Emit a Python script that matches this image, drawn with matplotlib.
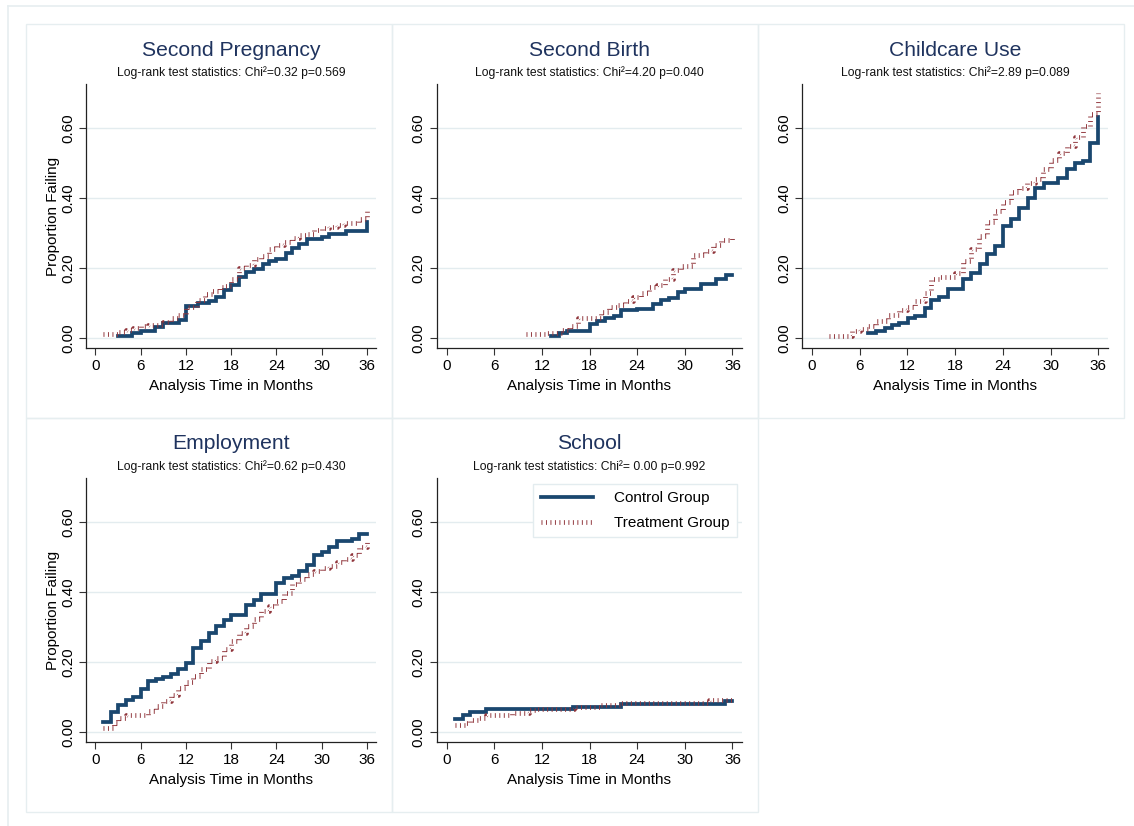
import numpy as np
import matplotlib
matplotlib.use("Agg")
import matplotlib.pyplot as plt
from matplotlib.patches import Rectangle
from matplotlib.lines import Line2D

plt.rcParams['font.family'] = ['Liberation Sans', 'DejaVu Sans']

W, H = 1134, 826

# ---- data (months, cumulative proportion failing) ----
preg_ctrl_t = [3, 4.9, 6, 7.9, 9, 11.1, 12, 13.6, 15, 16, 17, 18, 19, 20, 21, 22.2, 23, 24, 25.3, 26, 27, 28.1, 30.1, 31, 33.2, 36]
preg_ctrl_y = [0.006, 0.013, 0.021, 0.03, 0.042, 0.051, 0.092, 0.10, 0.107, 0.116, 0.137, 0.151, 0.173, 0.19, 0.197, 0.211, 0.219, 0.225, 0.244, 0.258, 0.268, 0.282, 0.29, 0.297, 0.306, 0.332]
preg_trt_t = [1, 3, 4, 5, 6, 7, 8, 9, 10, 11, 12, 13.5, 14.5, 15.5, 16.5, 17, 18, 19, 20, 21, 22, 23, 24, 25, 26, 27, 28, 29, 30, 31, 32, 33, 35, 36]
preg_trt_y = [0.010, 0.016, 0.022, 0.028, 0.033, 0.036, 0.038, 0.045, 0.058, 0.066, 0.09, 0.11, 0.125, 0.135, 0.145, 0.15, 0.17, 0.2, 0.21, 0.225, 0.235, 0.255, 0.265, 0.275, 0.285, 0.295, 0.298, 0.31, 0.315, 0.318, 0.322, 0.33, 0.34, 0.366]

birth_ctrl_t = [13.1, 14.2, 15.1, 18, 19, 20, 21.1, 22, 24, 26, 27, 28, 29.1, 30, 32, 33.9, 35.2, 36]
birth_ctrl_y = [0.006, 0.013, 0.021, 0.04, 0.049, 0.056, 0.063, 0.08, 0.082, 0.097, 0.109, 0.113, 0.132, 0.139, 0.153, 0.168, 0.18, 0.18]
birth_trt_t = [10, 12.5, 14.5, 15.5, 16.5, 19.5, 20.5, 21.5, 22.5, 23.5, 24.5, 25.5, 26.5, 27.5, 28.5, 29.5, 31, 32.5, 33.5, 34.5, 36]
birth_trt_y = [0.01, 0.015, 0.022, 0.035, 0.057, 0.075, 0.09, 0.095, 0.105, 0.118, 0.13, 0.145, 0.152, 0.17, 0.194, 0.207, 0.237, 0.25, 0.265, 0.28, 0.285]

care_ctrl_t = [7.1, 8, 9.2, 10, 11, 12.1, 13, 14.2, 15, 16, 17.1, 19, 20, 21.1, 22, 23, 24, 25, 26, 27.1, 28, 29.1, 30.9, 32, 33, 34, 34.9, 36]
care_ctrl_y = [0.014, 0.02, 0.029, 0.036, 0.043, 0.058, 0.064, 0.085, 0.11, 0.118, 0.139, 0.168, 0.187, 0.211, 0.24, 0.262, 0.321, 0.34, 0.371, 0.401, 0.429, 0.444, 0.458, 0.484, 0.499, 0.506, 0.556, 0.633]
care_trt_t = [2.1, 5, 6, 7.1, 8, 9.5, 11, 12, 13, 14.2, 15, 16, 18, 19, 20, 21, 22, 23, 24, 25, 26, 27, 28, 29, 30, 31, 32, 33, 34, 35, 36]
care_trt_y = [0.005, 0.019, 0.025, 0.033, 0.048, 0.067, 0.081, 0.09, 0.105, 0.13, 0.168, 0.175, 0.187, 0.22, 0.254, 0.292, 0.331, 0.364, 0.388, 0.417, 0.43, 0.443, 0.455, 0.482, 0.51, 0.53, 0.55, 0.575, 0.605, 0.64, 0.70]

emp_ctrl_t = [1, 2, 3, 4, 5, 6, 7, 8, 9, 10, 11, 12, 13, 14, 15, 16, 17, 18, 20, 21, 22, 24, 25, 26, 27, 28, 29, 30, 31, 32, 34, 35, 36]
emp_ctrl_y = [0.028, 0.058, 0.076, 0.091, 0.1, 0.122, 0.146, 0.152, 0.158, 0.167, 0.181, 0.197, 0.241, 0.26, 0.284, 0.303, 0.32, 0.333, 0.362, 0.378, 0.394, 0.425, 0.439, 0.446, 0.461, 0.477, 0.507, 0.515, 0.53, 0.545, 0.553, 0.565, 0.565]
emp_trt_t = [1, 2.5, 3, 4, 7, 8, 9, 10, 11, 12, 13, 14, 15, 16, 17, 18, 19, 20, 21, 22, 23, 24, 25, 26, 27, 28, 29, 30, 31, 32, 33, 34, 35, 36]
emp_trt_y = [0.012, 0.025, 0.04, 0.05, 0.06, 0.074, 0.088, 0.107, 0.126, 0.143, 0.16, 0.18, 0.203, 0.212, 0.236, 0.26, 0.284, 0.303, 0.322, 0.345, 0.36, 0.375, 0.398, 0.423, 0.437, 0.451, 0.461, 0.47, 0.475, 0.485, 0.494, 0.506, 0.528, 0.55]

school_ctrl_t = [1.05, 2.1, 2.9, 5, 15.9, 22, 35, 36]
school_ctrl_y = [0.036, 0.05, 0.057, 0.065, 0.072, 0.079, 0.089, 0.089]
school_trt_t = [1, 2.5, 3, 4, 5, 8.2, 10.4, 11.3, 16, 19.3, 22, 23.9, 33.1, 36]
school_trt_y = [0.019, 0.027, 0.034, 0.041, 0.048, 0.055, 0.062, 0.067, 0.072, 0.076, 0.082, 0.084, 0.092, 0.092]

titles = ["Second Pregnancy", "Second Birth", "Childcare Use", "Employment", "School"]
subtitles = ["Log-rank test statistics: Chi\u00b2=0.32 p=0.569",
             "Log-rank test statistics: Chi\u00b2=4.20 p=0.040",
             "Log-rank test statistics: Chi\u00b2=2.89 p=0.089",
             "Log-rank test statistics: Chi\u00b2=0.62 p=0.430",
             "Log-rank test statistics: Chi\u00b2= 0.00 p=0.992"]
xticks = [0, 6, 12, 18, 24, 30, 36]
yticks = [0.0, 0.2, 0.4, 0.6]

series = [(preg_ctrl_t, preg_ctrl_y, preg_trt_t, preg_trt_y),
          (birth_ctrl_t, birth_ctrl_y, birth_trt_t, birth_trt_y),
          (care_ctrl_t, care_ctrl_y, care_trt_t, care_trt_y),
          (emp_ctrl_t, emp_ctrl_y, emp_trt_t, emp_trt_y),
          (school_ctrl_t, school_ctrl_y, school_trt_t, school_trt_y)]

NAVY = '#1a476f'
RED = '#90353b'
TITLE_C = '#1f335e'
GRID_C = '#e3ecef'
FRAME_C = '#e6eef0'

# pixel boxes: (left, top, right, bottom) of axes; and of panel frame
axes_px = [(86, 84, 376, 348), (436.7, 84, 742, 348), (802, 84, 1108, 348),
           (86, 478, 376, 742), (436.7, 478, 742, 742)]
frames_px = [(26, 24, 392, 418), (392, 24, 758, 418), (758, 24, 1124, 418),
             (26, 418, 392, 812), (392, 418, 758, 812)]

fig = plt.figure(figsize=(W / 100, H / 100), dpi=100)
fig.patch.set_facecolor('white')

# outer frame (top and left edges)
fig.add_artist(Line2D([8 / W, 1.0], [1 - 6 / H, 1 - 6 / H], color=FRAME_C, lw=1.2))
fig.add_artist(Line2D([8 / W, 8 / W], [0, 1 - 6 / H], color=FRAME_C, lw=1.2))
for (l, t, r, b) in frames_px:
    fig.add_artist(Rectangle((l / W, 1 - b / H), (r - l) / W, (b - t) / H,
                             fill=False, edgecolor=FRAME_C, lw=1.0))


def kaplan(ax, tx, ty, **kw):
    return ax.step(tx, ty, where='post', **kw)


for i, (l, t, r, b) in enumerate(axes_px):
    ax = fig.add_axes([l / W, 1 - b / H, (r - l) / W, (b - t) / H])
    ax.set_facecolor('white')
    ct, cy, tt, ty = series[i]
    kaplan(ax, ct, cy, color=NAVY, lw=2.7, solid_joinstyle='miter', label='Control Group', zorder=3)
    kaplan(ax, tt, ty, color=RED, lw=3.4, dashes=(0.2, 0.75), dash_capstyle='butt',
           label='Treatment Group', zorder=4)
    # x range maps 0 and 36 to tick positions
    ax.set_xlim(-1.25, 37.2)
    ax.set_ylim(-0.0286, 0.726)
    ax.set_xticks(xticks)
    ax.set_yticks(yticks)
    ax.set_yticklabels([f"{v:.2f}" for v in yticks], rotation=90, va='center')
    ax.tick_params(axis='both', labelsize=11, length=5, width=0.8, color='#333333', pad=3)
    ax.yaxis.grid(True, color=GRID_C, lw=1.0)
    ax.set_axisbelow(True)
    for s in ['top', 'right']:
        ax.spines[s].set_visible(False)
    for s in ['left', 'bottom']:
        ax.spines[s].set_color('#222222')
        ax.spines[s].set_linewidth(0.9)
    ax.set_xlabel("Analysis Time in Months", fontsize=11, labelpad=4)
    if i in (0, 3):
        ax.set_ylabel("Proportion Failing", fontsize=11, labelpad=1)
    # titles
    cx = (l + r) / 2 / W
    fig.text(cx, 1 - (t - 34) / H, titles[i], ha='center', va='center', fontsize=15.2, color=TITLE_C)
    fig.text(cx, 1 - (t - 11) / H, subtitles[i], ha='center', va='center', fontsize=8.7, color='#111111')
    if i == 4:
        leg = ax.legend(loc='upper right', bbox_to_anchor=(1.01, 1.008), fontsize=11,
                        handlelength=3.4, handletextpad=1.4, labelspacing=0.7,
                        borderpad=0.5, fancybox=False, framealpha=1.0)
        leg.get_frame().set_edgecolor(GRID_C)
        leg.get_frame().set_linewidth(1.0)

fig.savefig("out.png", dpi=100)
